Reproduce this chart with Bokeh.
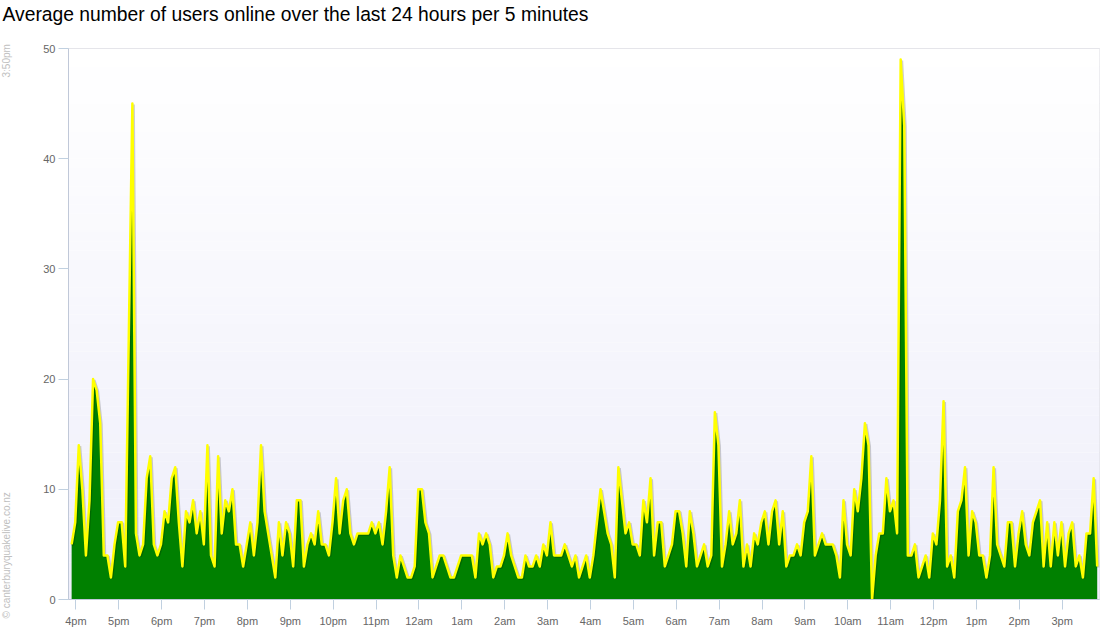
from bokeh.plotting import figure
from bokeh.models import Range1d, FixedTicker
from bokeh.layouts import column, row
from bokeh.embed import file_html
from bokeh.resources import INLINE
from bokeh.core.properties import value

# ---- data -------------------------------------------------------------
title_text = "Average number of users online over the last 24 hours per 5 minutes"
time_stamp = "3:50pm"
credit = "© canterburyquakelive.co.nz"
hour_labels = ["4pm", "5pm", "6pm", "7pm", "8pm", "9pm", "10pm", "11pm",
               "12am", "1am", "2am", "3am", "4am", "5am", "6am", "7am",
               "8am", "9am", "10am", "11am", "12pm", "1pm", "2pm", "3pm"]
y_ticks = [0, 10, 20, 30, 40, 50]
# average users online, one value per 5 minutes (288 samples)
users = [
    5, 7, 14, 10, 4, 9, 20, 19, 16, 4, 4, 2,
    5, 7, 7, 3, 24, 45, 6, 4, 5, 11, 13, 5,
    4, 5, 8, 7, 11, 12, 7, 3, 8, 7, 9, 6,
    8, 5, 14, 4, 3, 13, 6, 9, 8, 10, 5, 5,
    3, 5, 7, 4, 7, 14, 8, 6, 4, 2, 7, 4,
    7, 6, 3, 9, 9, 3, 5, 6, 5, 8, 5, 5,
    4, 7, 11, 6, 9, 10, 6, 5, 6, 6, 6, 6,
    7, 6, 7, 5, 8, 12, 4, 2, 4, 3, 2, 2,
    3, 10, 10, 7, 6, 2, 3, 4, 4, 3, 2, 2,
    3, 4, 4, 4, 4, 2, 6, 5, 6, 5, 2, 3,
    3, 4, 6, 4, 3, 2, 2, 4, 3, 3, 4, 3,
    5, 4, 7, 4, 4, 4, 5, 4, 3, 4, 2, 3,
    4, 2, 4, 7, 10, 8, 6, 5, 2, 12, 9, 6,
    7, 5, 5, 4, 9, 7, 11, 4, 7, 7, 3, 4,
    5, 8, 8, 6, 3, 8, 6, 3, 4, 5, 3, 4,
    17, 14, 3, 5, 8, 5, 6, 9, 3, 5, 3, 6,
    5, 7, 8, 5, 8, 9, 5, 8, 3, 4, 4, 5,
    4, 7, 8, 13, 4, 5, 6, 5, 5, 5, 4, 2,
    9, 5, 4, 10, 8, 11, 16, 14, 0, 4, 6, 6,
    11, 8, 9, 6, 49, 43, 4, 4, 5, 2, 3, 4,
    2, 6, 5, 9, 18, 3, 4, 2, 8, 9, 12, 4,
    8, 7, 4, 4, 2, 4, 12, 5, 4, 3, 7, 7,
    3, 6, 8, 5, 4, 7, 8, 9, 3, 7, 3, 7,
    4, 7, 3, 6, 7, 3, 4, 2, 6, 6, 11, 3,
]

# ---- layout -----------------------------------------------------------
font = "Liberation Sans"
PAGE_W = 1100
TOP_H = 30          # title strip
SIDE_W = 14         # strip with the rotated notes
MAIN_H = 610
W = PAGE_W - SIDE_W
ML, MR, MT, MB = 54, 1, 18, 41
x0, x1 = -0.173, 23.87          # hours after 4pm
y0, y1 = 0, 50
first_offset = -0.1             # first sample sits just before 4pm
step = 5 / 60.0

t = [first_offset + i * step for i in range(len(users))]


def strip(width, height):
    f = figure(width=width, height=height, output_backend="svg",
               toolbar_location=None, x_range=Range1d(0, width),
               y_range=Range1d(0, height), min_border=0,
               x_axis_location=None, y_axis_location=None)
    f.outline_line_color = None
    f.grid.visible = False
    f.background_fill_color = "white"
    f.border_fill_color = "white"
    return f


# title strip (data y = TOP_H - page y)
top = strip(PAGE_W, TOP_H)
top.text(x=[2], y=[TOP_H - 14], text=[title_text], text_font=value(font),
         text_font_size="19.3px", text_color="#000000", text_align="left",
         text_baseline="alphabetic")

# left strip with rotated notes (data y = TOP_H + MAIN_H - page y)
side = strip(SIDE_W, MAIN_H)
side.text(x=[6, 6], y=[TOP_H + MAIN_H - 77, TOP_H + MAIN_H - 618],
          text=[time_stamp, credit], angle=1.5708, text_font=value(font),
          text_font_size="10px", text_color="#C0C0C0", text_align="left",
          text_baseline="middle")

# main chart
p = figure(width=W, height=MAIN_H, output_backend="svg",
           toolbar_location=None,
           x_range=Range1d(x0, x1), y_range=Range1d(y0, y1),
           min_border_left=ML, min_border_right=MR,
           min_border_top=MT, min_border_bottom=MB)
p.background_fill_color = "white"
p.border_fill_color = "white"
p.outline_line_color = "#DDDDE3"
p.grid.visible = False

# gradient plot background (white top -> lavender bottom)
top_c = (255, 255, 255)
bot_c = (238, 238, 250)
nb = 60
bb, bt, bc = [], [], []
for k in range(nb):
    f = k / (nb - 1)
    c = tuple(int(round(bot_c[j] + (top_c[j] - bot_c[j]) * f)) for j in range(3))
    bb.append(y0 + (y1 - y0) * k / nb)
    bt.append(y0 + (y1 - y0) * (k + 1) / nb + 0.01)
    bc.append("#%02x%02x%02x" % c)
bg = p.quad(left=x0 - 1, right=x1 + 1, bottom=bb, top=bt, fill_color=bc,
            line_color=None)
bg.level = "underlay"

# area + line (with a faint drop shadow)
p.varea(x=t, y1=0, y2=users, fill_color="#008000")
px_x = (x1 - x0) / (W - ML - MR)
px_y = (y1 - y0) / (MAIN_H - MT - MB)
p.line([v + px_x for v in t], [u - px_y for u in users],
       line_color="#000000", line_alpha=0.18, line_width=3)
p.line(t, users, line_color="#FFFF00", line_width=2.5, line_join="round")

# axes
p.xaxis.ticker = FixedTicker(ticks=list(range(len(hour_labels))))
p.xaxis.major_label_overrides = {i: lab for i, lab in enumerate(hour_labels)}
p.yaxis.ticker = FixedTicker(ticks=y_ticks)
for ax in (p.xaxis[0], p.yaxis[0]):
    ax.axis_line_color = "#C0C8D8"
    ax.major_tick_line_color = "#C0D0E0"
    ax.major_tick_out = 10
    ax.major_tick_in = 0
    ax.minor_tick_line_color = None
    ax.major_label_text_font = font
    ax.major_label_text_font_size = "11px"
    ax.major_label_text_color = "#666666"
p.xaxis.major_label_standoff = 5
p.yaxis.major_label_standoff = 3

layout = column(top, row(column(side), p, spacing=0), spacing=0)
open("out.html", "w").write(file_html(layout, INLINE))
